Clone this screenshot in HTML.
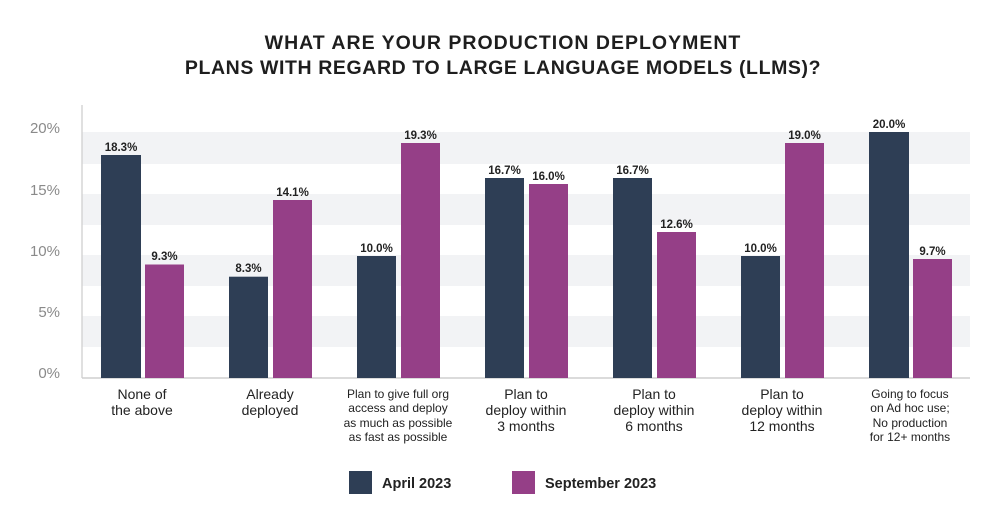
<!DOCTYPE html>
<html><head><meta charset="utf-8"><style>
body{margin:0;background:#fff;}
svg{display:block;}
text{font-family:"Liberation Sans",sans-serif;}
</style></head><body>
<svg width="1001" height="525" viewBox="0 0 1001 525" xmlns="http://www.w3.org/2000/svg">
<rect width="1001" height="525" fill="#fff"/>
<text x="503" y="49" text-anchor="middle" font-size="19.5" font-weight="bold" fill="#1e1e1e" letter-spacing="1">WHAT ARE YOUR PRODUCTION DEPLOYMENT</text>
<text x="503" y="74" text-anchor="middle" font-size="19.5" font-weight="bold" fill="#1e1e1e" letter-spacing="0.6">PLANS WITH REGARD TO LARGE LANGUAGE MODELS (LLMS)?</text>
<g fill="#f2f3f5">
<rect x="82" y="132" width="888" height="32"/>
<rect x="82" y="194" width="888" height="31"/>
<rect x="82" y="255" width="888" height="31"/>
<rect x="82" y="316" width="888" height="31"/>
</g>
<line x1="82" y1="105" x2="82" y2="378" stroke="#d5d5d5" stroke-width="1.5"/>
<line x1="82" y1="378" x2="970" y2="378" stroke="#cfcfcf" stroke-width="1.5"/>
<g font-size="15" fill="#8a8a8a" text-anchor="end">
<text x="60" y="133">20%</text>
<text x="60" y="195">15%</text>
<text x="60" y="256">10%</text>
<text x="60" y="317">5%</text>
<text x="60" y="378">0%</text>
</g>
<g font-size="11.5" font-weight="bold" fill="#222" text-anchor="middle">
<rect x="101" y="155" width="40" height="223" fill="#2e3e55"/><text x="121" y="151">18.3%</text>
<rect x="145" y="264.5" width="39" height="113.5" fill="#953f87"/><text x="164.5" y="260">9.3%</text>
<rect x="229" y="276.7" width="39" height="101.3" fill="#2e3e55"/><text x="248.5" y="272">8.3%</text>
<rect x="273" y="200" width="39" height="178" fill="#953f87"/><text x="292.5" y="196">14.1%</text>
<rect x="357" y="256" width="39" height="122" fill="#2e3e55"/><text x="376.5" y="252">10.0%</text>
<rect x="401" y="143" width="39" height="235" fill="#953f87"/><text x="420.5" y="139">19.3%</text>
<rect x="485" y="178" width="39" height="200" fill="#2e3e55"/><text x="504.5" y="174">16.7%</text>
<rect x="529" y="184" width="39" height="194" fill="#953f87"/><text x="548.5" y="180">16.0%</text>
<rect x="613" y="178" width="39" height="200" fill="#2e3e55"/><text x="632.5" y="174">16.7%</text>
<rect x="657" y="232" width="39" height="146" fill="#953f87"/><text x="676.5" y="228">12.6%</text>
<rect x="741" y="256" width="39" height="122" fill="#2e3e55"/><text x="760.5" y="252">10.0%</text>
<rect x="785" y="143" width="39" height="235" fill="#953f87"/><text x="804.5" y="139">19.0%</text>
<rect x="869" y="132" width="40" height="246" fill="#2e3e55"/><text x="889" y="128">20.0%</text>
<rect x="913" y="259" width="39" height="119" fill="#953f87"/><text x="932.5" y="255">9.7%</text>
</g>
<g font-size="14" fill="#222" text-anchor="middle">
<text x="142" y="399">None of</text><text x="142" y="415">the above</text>
<text x="270" y="399">Already</text><text x="270" y="415">deployed</text>
<text x="398" y="398" font-size="12">Plan to give full org</text>
<text x="398" y="412" font-size="12">access and deploy</text>
<text x="398" y="427" font-size="12">as much as possible</text>
<text x="398" y="441" font-size="12">as fast as possible</text>
<text x="526" y="399">Plan to</text><text x="526" y="415">deploy within</text><text x="526" y="431">3 months</text>
<text x="654" y="399">Plan to</text><text x="654" y="415">deploy within</text><text x="654" y="431">6 months</text>
<text x="782" y="399">Plan to</text><text x="782" y="415">deploy within</text><text x="782" y="431">12 months</text>
<text x="910" y="398" font-size="12">Going to focus</text>
<text x="910" y="412" font-size="12">on Ad hoc use;</text>
<text x="910" y="427" font-size="12">No production</text>
<text x="910" y="441" font-size="12">for 12+ months</text>
</g>
<rect x="349" y="471" width="23" height="23" fill="#2e3e55"/>
<text x="382" y="488" font-size="14.5" font-weight="bold" fill="#222">April 2023</text>
<rect x="512" y="471" width="23" height="23" fill="#953f87"/>
<text x="545" y="488" font-size="14.5" font-weight="bold" fill="#222">September 2023</text>
</svg>
</body></html>
